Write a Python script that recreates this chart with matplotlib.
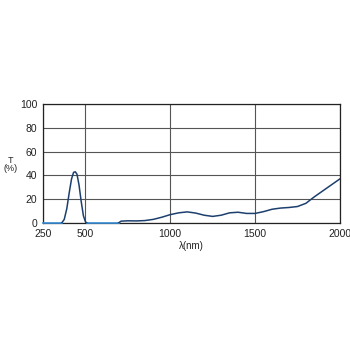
import matplotlib
matplotlib.use("Agg")
import matplotlib.pyplot as plt

plt.rcParams['font.family'] = ['Liberation Sans', 'DejaVu Sans']

# transmission band in the visible
peak_wl = [360, 375, 390, 405, 418, 430, 440, 450, 462, 475, 488, 500, 508]
peak_t = [0, 3, 12, 26, 37, 42.5, 43, 41, 32, 18, 6, 1, 0]

# near-infrared leakage
ir_wl = [695, 710, 750, 800, 850, 900, 950, 1000, 1050, 1100, 1150, 1200, 1250,
         1300, 1350, 1400, 1450, 1500, 1550, 1600, 1650, 1700, 1750, 1800, 1850,
         1900, 1950, 2000]
ir_t = [0, 1.5, 1.8, 1.7, 2.0, 3.0, 4.8, 7.0, 8.5, 9.3, 8.3, 6.5, 5.5,
        6.5, 8.5, 9.0, 8.0, 8.0, 9.5, 11.5, 12.5, 13.0, 13.8, 16.5, 22.0,
        27.0, 32.0, 37.0]

# blocked regions (0 %)
zero_segs = [(250, 360), (508, 695)]

xticks = [250, 500, 1000, 1500, 2000]
yticks = [0, 20, 40, 60, 80, 100]

navy = '#1d3f6e'
light = '#3b8fd8'
grey = '#555555'

fig = plt.figure(figsize=(3.5, 3.5), dpi=100)
ax = fig.add_axes([0.123, 0.363, 0.848, 0.34])

for a, b in zero_segs:
    ax.plot([a, b], [0, 0], color=light, lw=1.2, clip_on=False, zorder=4)
ax.plot(peak_wl, peak_t, color=navy, lw=1.1, zorder=5)
ax.plot(ir_wl, ir_t, color=navy, lw=1.1, zorder=5)

ax.set_xlim(250, 2000)
ax.set_ylim(0, 100)
ax.set_xticks(xticks)
ax.set_yticks(yticks)
ax.tick_params(length=0, labelsize=7.5, colors='#222222', pad=4)
ax.grid(True, color=grey, lw=0.8)
for s in ax.spines.values():
    s.set_color('#222222')
    s.set_linewidth(0.9)

ax.set_xlabel('λ(nm)', fontsize=7, color='#222222', labelpad=2)
fig.text(0.03, 0.53, 'T\n(%)', fontsize=6.5, ha='center', va='center',
         color='#222222', linespacing=0.9)

fig.savefig('out.png', dpi=100)
